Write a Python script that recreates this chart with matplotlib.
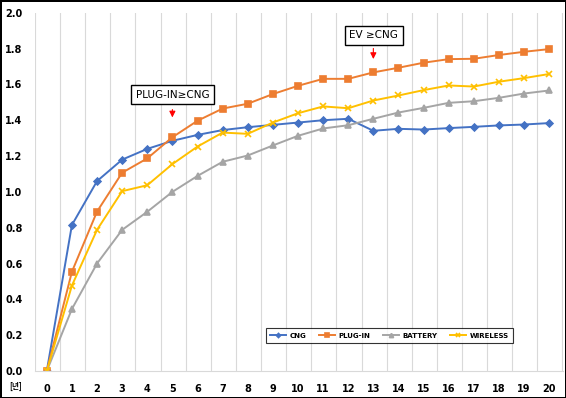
import numpy as np
import matplotlib.pyplot as plt

plt.rcParams['font.family'] = ['DejaVu Sans', 'Noto Sans CJK KR']

# years after purchase
years = list(range(21))

cng = [0.00, 0.815, 1.06, 1.18, 1.24, 1.285, 1.318, 1.345, 1.361, 1.374, 1.387,
       1.400, 1.408, 1.341, 1.352, 1.348, 1.356, 1.363, 1.371, 1.376, 1.384]
plug_in = [0.00, 0.554, 0.89, 1.107, 1.187, 1.305, 1.397, 1.465, 1.492, 1.546, 1.592,
           1.631, 1.631, 1.667, 1.693, 1.721, 1.741, 1.743, 1.764, 1.782, 1.797]
battery = [0.00, 0.346, 0.60, 0.788, 0.889, 1.00, 1.089, 1.168, 1.203, 1.259, 1.313,
           1.354, 1.372, 1.408, 1.443, 1.469, 1.497, 1.506, 1.525, 1.549, 1.566]
wireless = [0.00, 0.477, 0.788, 1.004, 1.037, 1.155, 1.253, 1.331, 1.324, 1.387, 1.439,
            1.477, 1.467, 1.51, 1.538, 1.568, 1.594, 1.588, 1.615, 1.635, 1.658]

series = [
    ('CNG', cng, '#4472C4', 'D', 3.5),
    ('PLUG-IN', plug_in, '#ED7D31', 's', 4.5),
    ('BATTERY', battery, '#A5A5A5', '^', 5),
    ('WIRELESS', wireless, '#FFC000', 'x', 5),
]

fig = plt.figure(figsize=(5.66, 3.98), dpi=100)
fig.patch.set_edgecolor('black')
fig.patch.set_linewidth(2)
ax = fig.add_axes([0.0618, 0.0678, 0.9329, 0.9002])

for name, vals, color, marker, ms in series:
    ax.plot(years, vals, color=color, marker=marker, markersize=ms, linewidth=1.4,
            markeredgewidth=1.2, label=name)

ax.set_xlim(-0.47, 20.55)
ax.set_ylim(0, 2.0)
ax.set_xticks(years)
ax.set_yticks(np.arange(0, 2.01, 0.2))
ax.set_yticklabels([f'{v:.1f}' for v in np.arange(0, 2.01, 0.2)])
for lab in ax.get_xticklabels() + ax.get_yticklabels():
    lab.set_fontweight('bold')
    lab.set_fontsize(7)
ax.tick_params(length=0, pad=9)

# gridlines between the categories
for g in np.arange(22) - 0.47:
    ax.axvline(g, color='#D9D9D9', linewidth=0.8, zorder=0)
for s in ['top', 'right', 'left']:
    ax.spines[s].set_visible(False)
ax.spines['bottom'].set_color('#D9D9D9')

fig.text(0.027, 0.03, '[년]', fontsize=5.5, fontweight='bold',
         family=['Noto Sans CJK KR', 'DejaVu Sans'], ha='center', va='center')

box = dict(boxstyle='square,pad=0.45', facecolor='white', edgecolor='black', linewidth=1)
ax.text(5.0, 1.542, 'PLUG-IN≥CNG', fontsize=7.5, ha='center', va='center', bbox=box)
ax.annotate('', xy=(5.0, 1.40), xytext=(5.0, 1.475),
            arrowprops=dict(arrowstyle='-|>', color='red', lw=0.8, mutation_scale=9))
ax.text(13.02, 1.874, 'EV ≥CNG', fontsize=7.5, ha='center', va='center', bbox=box)
ax.annotate('', xy=(13.0, 1.726), xytext=(13.0, 1.816),
            arrowprops=dict(arrowstyle='-|>', color='red', lw=0.8, mutation_scale=9))

leg = fig.legend(loc='center', bbox_to_anchor=(0.688, 0.157), ncol=4,
                 prop={'weight': 'bold', 'size': 5}, frameon=True, fancybox=False,
                 edgecolor='black', handlelength=2.3, columnspacing=1.8,
                 handletextpad=0.5, borderpad=0.7, markerscale=0.6)
leg.get_frame().set_linewidth(0.8)

fig.savefig('out.png', dpi=100)
